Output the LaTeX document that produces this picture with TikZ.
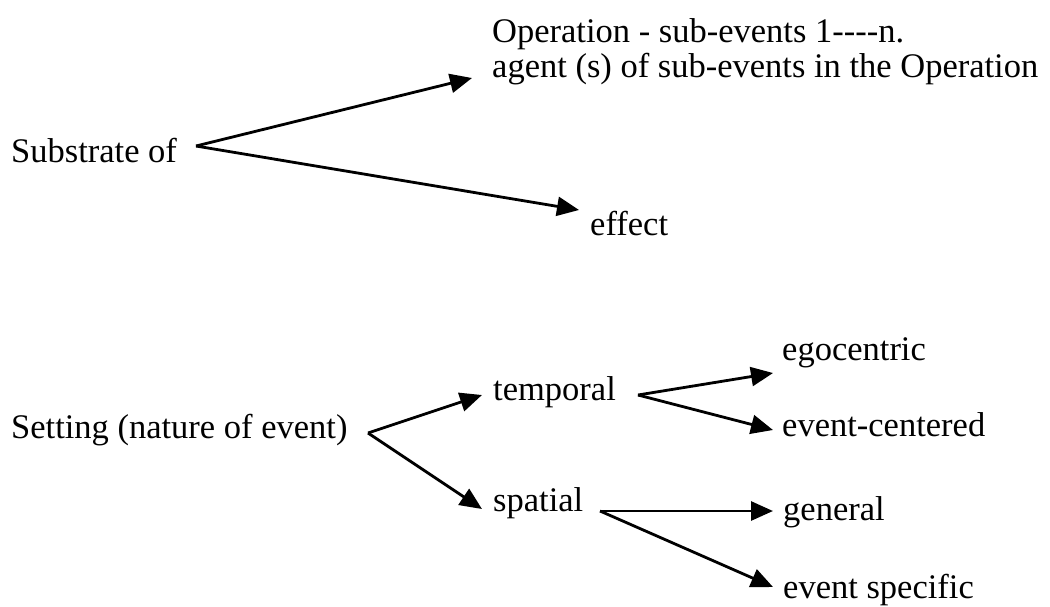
\documentclass[tikz,border=0pt]{standalone}
\usepackage{fontspec}
\setmainfont{Liberation Serif}
\usetikzlibrary{arrows.meta}
\begin{document}
\begin{tikzpicture}[x=1pt,y=-1pt,
  lbl/.style={anchor=base west,inner sep=0pt,font=\fontsize{34.5}{35}\selectfont},
  link/.style={line width=2.8pt,-{Triangle[length=22pt,width=19pt]}}]
  \useasboundingbox (0,0) rectangle (1050,606);

  % upper tree
  \node[lbl] (sub) at (11,162) {Substrate of};
  \node[lbl,align=left] (op) at (492,77) {Operation - sub-events 1{-}{-}{-}{-}n.\\agent (s) of sub-events in the Operation};
  \node[lbl] (eff) at (590,235) {effect};
  \coordinate (subv) at (196,146);
  \coordinate (opt) at (472,78);
  \coordinate (efft) at (579,210);
  \draw[link] (subv) -- (opt);
  \draw[link] (subv) -- (efft);

  % lower tree
  \node[lbl] (set) at (11,438) {Setting (nature of event)};
  \node[lbl] (tmp) at (493,400) {temporal};
  \node[lbl] (spa) at (493,511) {spatial};
  \node[lbl] (ego) at (782,360) {egocentric};
  \node[lbl] (evc) at (782,436) {event-centered};
  \node[lbl] (gen) at (783,520) {general};
  \node[lbl] (evs) at (783,598) {event specific};

  \coordinate (setv) at (368,433);
  \coordinate (tmpt) at (482,395);
  \coordinate (spat) at (482,509);
  \draw[link] (setv) -- (tmpt);
  \draw[link] (setv) -- (spat);

  \coordinate (tmpv) at (638,395);
  \coordinate (egot) at (773,373);
  \coordinate (evct) at (773,430);
  \draw[link] (tmpv) -- (egot);
  \draw[link] (tmpv) -- (evct);

  \coordinate (spav) at (600,511);
  \coordinate (gent) at (773,511);
  \coordinate (evst) at (773,587);
  \draw[link] (spav) -- (gent);
  \draw[link] (spav) -- (evst);
\end{tikzpicture}
\end{document}
